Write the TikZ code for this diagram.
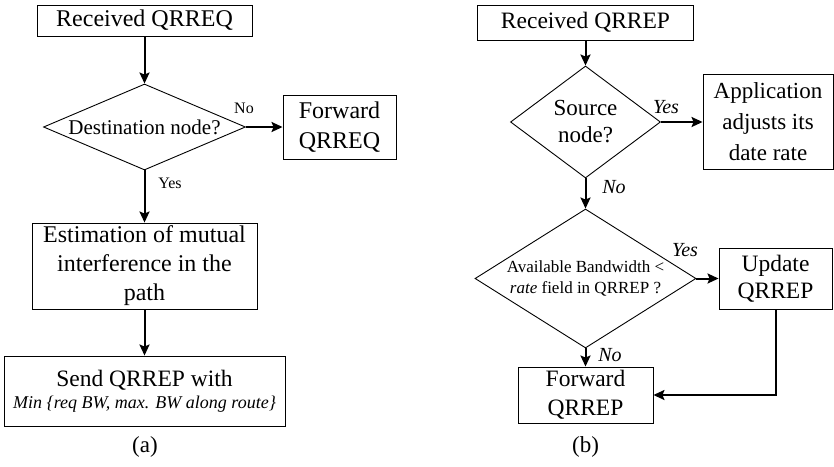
\documentclass[tikz,border=0pt]{standalone}
\usepackage{fontspec}
\setmainfont{Liberation Serif}
\usetikzlibrary{shapes.geometric,arrows.meta}
\begin{document}
\begin{tikzpicture}[x=1pt,y=-1pt,
  box/.style={draw, line width=0.9pt, rectangle, inner sep=0pt, align=center,
    font=\fontsize{23.5}{29}\selectfont},
  dia/.style={draw, line width=0.9pt, diamond, inner sep=0pt, align=center},
  arr/.style={line width=2pt, -{Stealth[length=11pt,width=10pt,inset=2pt]}},
  lbl/.style={inner sep=0pt, font=\fontsize{16}{18}\selectfont},
  ilbl/.style={inner sep=0pt, font=\fontsize{20}{22}\selectfont\itshape},
  figcap/.style={inner sep=0pt, font=\fontsize{23}{26}\selectfont}]
\useasboundingbox (0,0) rectangle (834,466);
% (a)
\node[box, minimum width=215pt, minimum height=31pt, font=\fontsize{24}{29}\selectfont] (rq) at (144.5,20.5) {Received QRREQ};
\node[dia, shape aspect=2.3, minimum width=202pt, minimum height=86pt,
  font=\fontsize{21}{25}\selectfont] (dn) at (144.5,127) {Destination node?};
\node[box, minimum width=113pt, minimum height=64pt, font=\fontsize{24}{30}\selectfont] (fq) at (339.5,127) {Forward\\QRREQ};
\node[box, minimum width=225pt, minimum height=86pt, font=\fontsize{24}{29}\selectfont] (est) at (144.5,266) {Estimation of mutual\\interference in the\\path};
\node[box, minimum width=281pt, minimum height=70pt] (send) at (144.5,391)
  {Send QRREP with\\[-7pt]{\fontsize{18}{20}\selectfont\itshape Min \{req BW, max. BW along route\}}};
\node[figcap] (capa) at (145,447) {(a)};
\draw[arr] (rq.south) -- (dn.north);
\draw[arr] (dn.east) -- (fq.west);
\draw[arr] (dn.south) -- (est.north);
\draw[arr] (est.south) -- (send.north);
\node[lbl] (lno) at (244,108) {No};
\node[lbl] (lyes) at (170,183) {Yes};
% (b)
\node[box, minimum width=216pt, minimum height=35pt] (rp) at (585.5,22.5) {Received QRREP};
\node[dia, shape aspect=1.34, minimum width=150pt, minimum height=112pt,
  font=\fontsize{23}{27}\selectfont] (sn) at (585.5,122) {Source\\node?};
\node[box, minimum width=130pt, minimum height=95pt, font=\fontsize{23}{31}\selectfont] (app) at (768,122) {Application\\adjusts its\\date rate};
\node[dia, shape aspect=1.59, minimum width=221pt, minimum height=139pt,
  font=\fontsize{17}{21}\selectfont] (avb) at (585.5,278.5) {Available Bandwidth <\\\textit{rate} field in QRREP ?};
\node[box, minimum width=113pt, minimum height=61pt, font=\fontsize{23.5}{27}\selectfont] (upd) at (775.5,278.5) {Update\\QRREP};
\node[box, minimum width=135pt, minimum height=56pt] (fp) at (585.5,395) {Forward\\QRREP};
\node[figcap] (capb) at (585.5,447) {(b)};
\draw[arr] (rp.south) -- (sn.north);
\draw[arr] (sn.east) -- (app.west);
\draw[arr] (sn.south) -- (avb.north);
\draw[arr] (avb.east) -- (upd.west);
\draw[arr] (avb.south) -- (fp.north);
\draw[arr] (upd.south) |- (fp.east);
\node[ilbl] (ryes1) at (666,107) {Yes};
\node[ilbl] (rno1) at (614,187) {No};
\node[ilbl] (ryes2) at (685,250) {Yes};
\node[ilbl] (rno2) at (610,355) {No};
\end{tikzpicture}
\end{document}
